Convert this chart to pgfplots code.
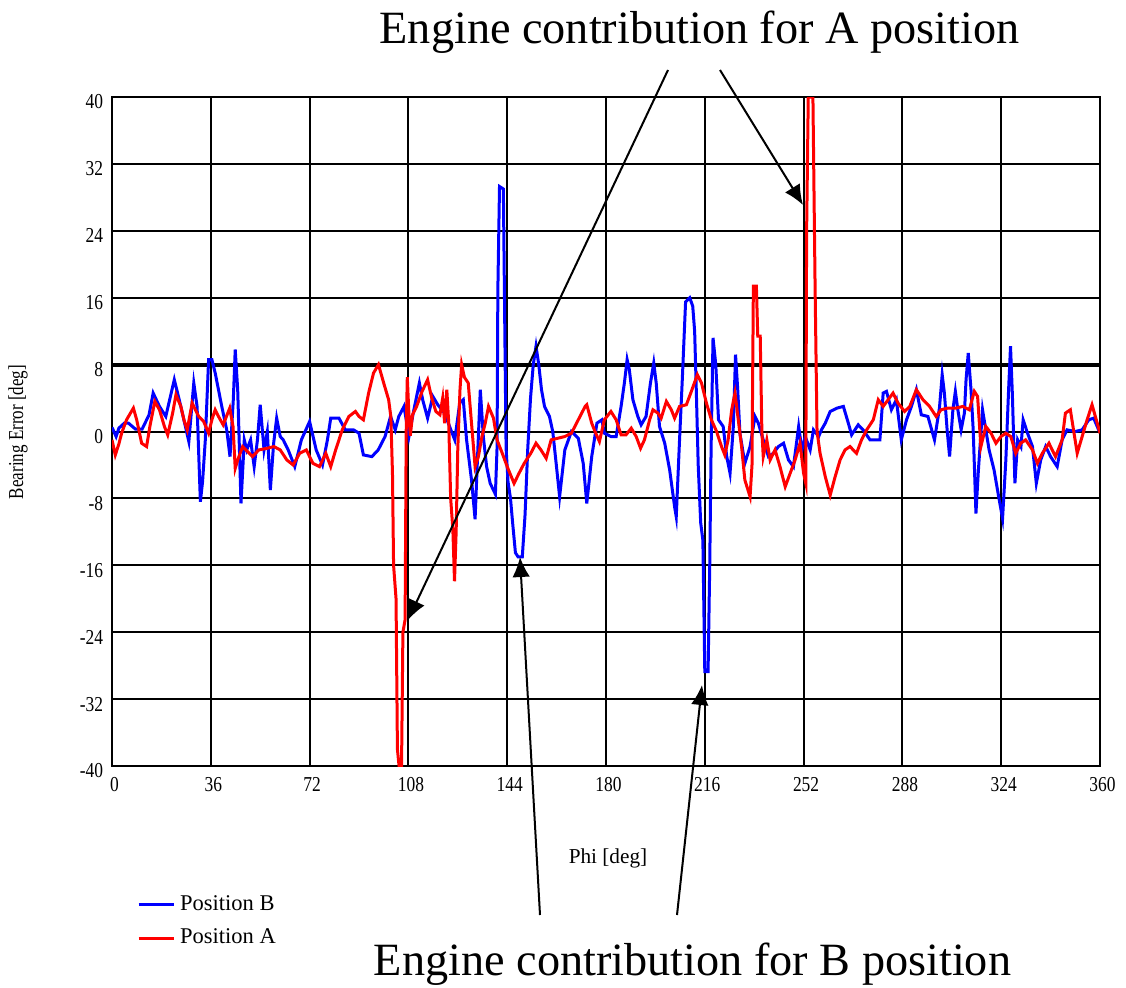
\documentclass[border=0pt]{standalone}
\usepackage{fontspec}
\setmainfont{Liberation Serif}
\usepackage{graphicx}
\usepackage{pgfplots}
\pgfplotsset{compat=1.18}
\usetikzlibrary{arrows.meta}
\definecolor{pblue}{RGB}{0,0,255}
\definecolor{pred}{RGB}{255,0,0}
\newcommand\nx[1]{\scalebox{0.82}[1]{#1}}
\begin{document}
\begin{tikzpicture}
\useasboundingbox (0,0) rectangle (450.4pt,394.8pt);
\begin{axis}[
  at={(44.8pt,88.4pt)}, anchor=south west,
  scale only axis, width=395.2pt, height=267.6pt,
  xmin=0, xmax=360, ymin=-40, ymax=40,
  xtick={0,36,72,108,144,180,216,252,288,324,360},
  xticklabels={\nx{0},\nx{36},\nx{72},\nx{108},\nx{144},\nx{180},\nx{216},\nx{252},\nx{288},\nx{324},\nx{360}},
  ytick={-40,-32,-24,-16,-8,0,8,16,24,32,40},
  yticklabels={\nx{-40},\nx{-32},\nx{-24},\nx{-16},\nx{-8},\nx{0},\nx{8},\nx{16},\nx{24},\nx{32},\nx{40}},
  grid=major, grid style={black, line width=0.8pt},
  axis line style={black, line width=0.8pt},
  major tick length=0pt,
  tick label style={font=\fontsize{8.5}{10}\selectfont},
  xticklabel style={yshift=-1pt, xshift=1pt},
  yticklabel style={xshift=0pt, yshift=-2pt},
  legend style={at={(0.025,-0.185)}, anchor=north west, draw=none, fill=none,
    font=\fontsize{9}{11}\selectfont, inner sep=0pt, row sep=2pt, cells={anchor=west}},
  legend image code/.code={\draw[#1] (0pt,0pt) -- (14pt,0pt);},
]
\addplot[black, line width=1.6pt, forget plot] coordinates {(0,8) (360,8)};
\addplot[pblue, line width=1.2pt] coordinates {
(0,0.5) (1.5,-0.6) (2.5,0.4) (4.5,1) (6,1) (8.5,0.3) (11,0.3) (13.5,2) (15,4.6) (17.3,3) (19.6,1.8) (22.7,6.2) (24.5,3.8) (26.2,1.4) (28,-1.2) (29.8,5.8) (31,3) (32.2,-8.4) (33,-6) (34,-1) (35.2,8.6) (36.4,8.6) (37.6,7) (40,3) (41.8,0.2) (43,-3) (44.2,3.8) (44.9,9.8) (45.8,5) (47,-8.6) (48.2,-1) (49.1,-2.2) (50.5,-1) (51.8,-4.2) (53,-1) (54,3.2) (55.4,-2.2) (56.6,0) (57.7,-7) (58.9,-1.4) (60,1.6) (61.3,-0.6) (62.4,-1) (64.2,-2.2) (66.6,-4.2) (69,-1) (72,1.2) (74.4,-2.2) (76.7,-4) (78.5,-1) (79.7,1.6) (82.7,1.6) (85,0.2) (88,0.2)
(90,-0.2) (91.6,-2.8) (94.7,-3) (97,-2.2) (99.5,-0.6) (101.5,1.8) (103.2,0.2) (104.5,1.8) (106.4,3) (108.2,-0.6) (110,2.6) (112,5.8) (113.2,3.8) (115,1.6) (116.9,4.2) (118.7,3.2) (121.2,2.2) (123,0.6) (124.9,-1) (126.7,3.4) (128,3.8) (129.2,-1) (131,-5.8) (132.3,-10.5) (133.2,-3) (134.2,5) (135.3,-0.6) (136.5,-4.2) (137.8,-6.2) (139.7,-7.5) (140.3,-2) (140.6,17) (141.2,29.3) (142.6,29) (143.2,10) (143.6,-2) (144.3,-6) (145.2,-8) (146,-11) (147,-14.5) (148,-15) (149.5,-15) (150.5,-10) (151.5,-2) (152.5,4) (153.5,8) (154.5,10.2) (155.5,8) (156.5,5) (157.6,3) (159.4,1.8) (160.6,0) (161.9,-4) (163.1,-7.8) (165,-2.2) (167.4,0) (169.9,-0.8) (171.7,-3.8) (173,-8.6) (174.8,-3) (176.7,1) (178.5,1.4) (179.4,-0.2) (181.8,-0.6) (183.7,-0.6) (185.5,3) (186.7,5.8) (187.7,8.6) (188.5,7.4) (189.8,3.8) (191.6,1.8) (192.8,0.8) (194.6,1.8) (196.2,5.8) (197.4,8.2) (198.3,5.8) (199.5,0.6) (201.4,-1.4) (203.2,-4.6) (205,-9) (205.6,-10.2) (206.8,-1) (207.8,6.2) (209,15.5) (210.5,16) (211.6,15) (212.3,12) (212.9,5) (213.6,-4) (214.5,-10.9) (215.3,-13) (216,-28.7) (217.2,-28.7) (217.8,-16) (218.3,-2) (219,11.2) (220,8) (221,1.4) (222.7,0.6) (224,-3) (225.2,-5) (226.4,0.6) (227.2,9.2) (228,5) (228.8,-0.2) (230.6,-3.8) (232.5,-1.8) (234.3,1.8) (235.5,1) (237.3,-1) (239.2,-3) (241,-2.6) (242.8,-1.8) (244.7,-1.4) (246.5,-3.4) (248.3,-4.2) (250.2,0.6) (251.4,-2.2) (252.6,-0.6) (254.4,-2.2) (255.6,0.2) (257.5,-0.6) (258.5,0.2) (259.9,1) (261.7,2.4) (264.2,2.8) (266.5,3) (268.3,1) (269.5,-0.4) (271.9,0.8) (273.7,0.2) (276.2,-1) (279.8,-1) (281,4.6) (282.2,4.8) (284,2.6) (285.8,3.8) (287.6,-1) (289.5,1.4) (291.3,3) (293.1,5) (294.9,2) (297.3,1.8) (299.7,-1) (301.5,2.8) (302.5,6.8) (303.3,4.6) (304.3,0.2) (305.2,-3) (306.4,2.6) (307.3,4.8) (308.2,2.6) (309.4,0.2) (310.6,2.2) (311.2,6.2) (312,9.4) (313,5) (313.8,0.2) (314.8,-9.8) (315.7,-4.6) (317.2,2.6) (318.4,0.2) (319.6,-2.2) (321.4,-4.6) (323.3,-8.2) (324.5,-10.4) (325.7,-3.4) (326.7,5) (327.4,10.2) (328.1,4.2) (329,-6.2) (330,-1) (331.2,-1.8) (332,1.4) (333.6,-0.2) (335.4,-1.8) (336.8,-6.2) (338.4,-3.4) (340.2,-1.8) (342,-3) (344.4,-4.2) (346.2,-1) (348,0.2) (351,0) (353.5,0.2) (355.9,1.4) (357.7,1.6) (359.5,0.2) (360,0.2)
};
\addlegendentry{Position B}
\addplot[pred, line width=1.2pt] coordinates {
(0,-1) (1.2,-2.8) (2.5,-1.5) (3.5,-0.2) (5.3,1.4) (7.8,2.8) (9,1.4) (10.8,-1.4) (12.6,-1.8) (13.8,0.6) (15.6,3.6) (17.3,2.6) (19.1,0.6) (20.3,-0.4) (22.1,2.2) (23.3,4.4) (25.1,3) (26.2,1.4) (27.4,0.2) (29.2,3.4) (30.4,2.6) (31.6,1.8) (33.4,1.2) (35.2,-0.2) (36.4,1.4) (37.6,2.6) (38.8,1.8) (40.5,0.8) (41.7,1.8) (42.9,2.8) (44.1,0.6) (44.9,-4.4) (45.8,-3.4) (47.6,-1.8) (49.4,-2.4) (51.2,-3) (53.5,-2.2) (56.6,-2) (59,-1.8) (61.3,-2.2) (63.7,-3.4) (66,-4) (68.4,-2.6) (70.8,-2.2) (73.2,-3.8) (75.6,-4.2) (77.9,-2.6) (79.7,-4.2) (81.5,-2.2) (83.9,0.2) (86.3,1.8) (88.7,2.4) (90,1.8)
(91.6,1.4) (93.5,4.6) (95.3,7) (97.1,8) (99,5.8) (100.8,3.8) (101.6,1.8) (102.2,-5) (102.6,-16) (103.5,-20) (104,-38) (104.6,-40) (105.5,-40) (106,-24) (106.8,-22.5) (107.2,0) (107.6,6.5) (108.2,2) (108.7,-0.5) (109.5,2) (111,3) (113,4.8) (115,6.2) (116.5,4) (118,2.4) (119.5,2) (120.5,4) (121.2,1) (122,5) (122.7,1) (123.4,-8) (124.2,-11.7) (124.8,-17.9) (125.4,-12) (126,-2) (126.8,5) (127.4,8) (128.4,6.5) (129.8,5.8) (130.7,2.2) (132.3,-4.2) (133.5,-3) (134.8,-0.6) (136,1) (137.2,3) (139,1.6) (140.3,-1) (142.2,-2.6) (144,-4.2) (146.5,-6.2) (148.3,-5) (150.2,-3.8) (152.6,-2.6) (154.5,-1.4) (156.3,-2.2) (158.2,-3.2) (160,-1) (162.5,-0.8) (165,-0.6) (167.4,-0.2) (169.9,1.4) (172.4,3) (173,3.2) (174.8,1) (176,0) (177.6,-1.2) (179.4,1.4) (181.8,2.4) (183.7,1.4) (185.5,-0.4) (187.3,-0.4) (189.2,0.4) (191,-0.6) (192.6,-2) (194,-1) (195.9,1.4) (197.1,2.6) (198.9,2.2) (200.1,1.6) (202,3.6) (203.8,2.6) (205,1.6) (206.8,3) (209.3,3.2) (211.1,4.8) (213.3,6.8) (214.8,5.8) (216.6,3.4) (218.4,1.4) (220.3,0) (222.1,-1.8) (223.3,-2.8) (224.5,-1) (225.8,2.6) (227,4.6) (228.2,1.4) (229.4,-1.8) (230.6,-5.8) (232.5,-7.8) (233.2,-4) (233.7,17.4) (234.8,17.4) (235.3,11.4) (236.2,11.4) (236.8,0) (237.3,-3) (238.6,-1) (239.8,-3.4) (241.6,-2.2) (243.4,-4.2) (245.3,-6.6) (247.1,-5) (248.9,-3.4) (250.7,-1.4) (252,-5) (252.8,-6.2) (253.1,23.8) (253.7,40) (255.4,40) (256.2,17) (256.9,0) (257.5,-1.4) (258,-2.6) (259.9,-5.4) (261.7,-7.6) (263.5,-5.4) (265.3,-3.4) (267.1,-2.2) (268.9,-1.8) (271.3,-2.6) (273.1,-1) (275,0.2) (277.4,1.4) (279.2,3.8) (281,3) (282.8,3.8) (284.6,4.6) (286.4,3.4) (288.8,2.4) (290.7,3) (293.1,5) (295.5,3.8) (297.9,3) (300.3,1.8) (302.1,2.6) (304.5,2.8) (307.5,2.8) (310,3) (312.4,2.6) (314.2,4.8) (315.4,4.2) (316.6,-1.8) (318.4,0.6) (320.3,-0.2) (322.1,-1.4) (323.9,-0.6) (325.7,-0.2) (327.5,-0.6) (329.3,-2.6) (331.1,-1.4) (332.9,-1) (335.4,-2.2) (337.2,-3.8) (339,-2.6) (341.4,-1.4) (343.8,-3) (346.2,-1) (347.4,2.2) (349.2,2.6) (351.7,-2.6) (353.5,-0.6) (355.3,1.4) (357.1,3.2) (359,1) (360,-0.2)
};
\addlegendentry{Position A}
\end{axis}
\node[anchor=center] at (243.2pt,51.6pt) {\fontsize{8.5}{10}\selectfont Phi [deg]};
\node[anchor=center, rotate=90] at (7.2pt,222pt) {\fontsize{8.5}{10}\selectfont\scalebox{0.8}[1]{Bearing Error [deg]}};
\node[anchor=base] at (279.8pt,377.6pt) {\fontsize{18.5}{22}\selectfont Engine contribution for A position};
\node[anchor=base] at (277pt,4.8pt) {\fontsize{18.5}{22}\selectfont Engine contribution for B position};
\begin{scope}[black, line width=0.8pt, -{Latex[length=8pt,width=7pt]}]
\draw (267.2pt,366.8pt) -- (163.2pt,146.8pt);
\draw (288pt,366.8pt) -- (321.2pt,312.8pt);
\draw (216pt,28.8pt) -- (208pt,172pt);
\draw (270.8pt,28.8pt) -- (280.8pt,120.8pt);
\end{scope}
\end{tikzpicture}
\end{document}
